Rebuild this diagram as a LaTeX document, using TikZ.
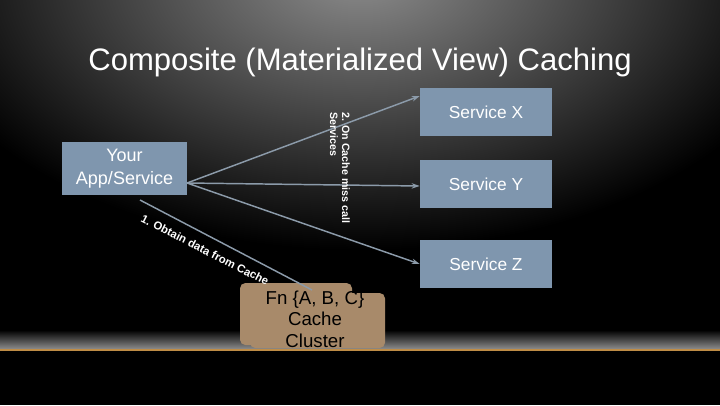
\documentclass[tikz,border=0pt]{standalone}
\usepackage{fontspec}
\setmainfont{Liberation Sans}
\usetikzlibrary{arrows.meta}
\definecolor{boxblue}{RGB}{127,150,174}
\definecolor{cachetan}{RGB}{168,138,106}
\definecolor{linkgray}{RGB}{140,155,170}
\begin{document}
\begin{tikzpicture}[x=0.75pt,y=0.75pt,yscale=-1,xscale=1,
  svcbox/.style={fill=boxblue,draw=none,inner sep=0pt,minimum width=99pt,minimum height=36pt,text=white,font=\fontsize{13}{15}\selectfont},
  link/.style={draw=linkgray,line width=1.1pt,-{Stealth[length=6pt,width=4pt]}}]

% background
\useasboundingbox (0,0) rectangle (720,405);
\fill[black] (0,0) rectangle (720,405);
\begin{scope}
\clip (0,0) rectangle (720,330);
\shade[inner color=black!45,outer color=black] (-100,-300) rectangle (820,250);
\end{scope}
\shade[top color=black,bottom color=black!45] (0,330) rectangle (720,349);
\draw[color={rgb,255:red,190;green,140;blue,70},line width=1pt] (0,350) -- (720,350);

\node[text=white,font=\fontsize{23.3}{27}\selectfont] (title) at (360,62) {Composite (Materialized View) Caching};

\node[svcbox,minimum width=94pt,minimum height=40pt,align=center,font=\fontsize{13.5}{17}\selectfont] (app) at (124.5,168.5) {Your\\App/Service};
\node[svcbox] (svcx) at (486,112) {Service X};
\node[svcbox] (svcy) at (486,184) {Service Y};
\node[svcbox] (svcz) at (486,264) {Service Z};

% cache cluster
\fill[cachetan,rounded corners=4pt] (240,283) rectangle (352,345);
\fill[cachetan,rounded corners=4pt] (250,293) rectangle (385,348);
\node[font=\fontsize{14}{16}\selectfont,align=center,text=black] (cache) at (315,319) {Fn \{A, B, C\}\\Cache\\Cluster};
\coordinate (cachetop) at (312,290);

\coordinate (appout) at (187,183);
\draw[link] (appout) -- (svcx.west |- 0,96);
\draw[link] (appout) -- (svcy.west |- 0,186);
\draw[link] (appout) -- (svcz.west |- 0,264);
\draw[draw=linkgray,line width=1.1pt] (140,200) -- (cachetop);

\node[rotate=-90,text=white,font=\bfseries\fontsize{8}{9}\selectfont,align=left] (misslbl) at (340,168) {2. On Cache miss call\\Services};
\node[rotate=-27,text=white,font=\bfseries\fontsize{8.5}{9}\selectfont] (obtainlbl) at (205,250) {1. Obtain data from Cache};

\end{tikzpicture}
\end{document}
